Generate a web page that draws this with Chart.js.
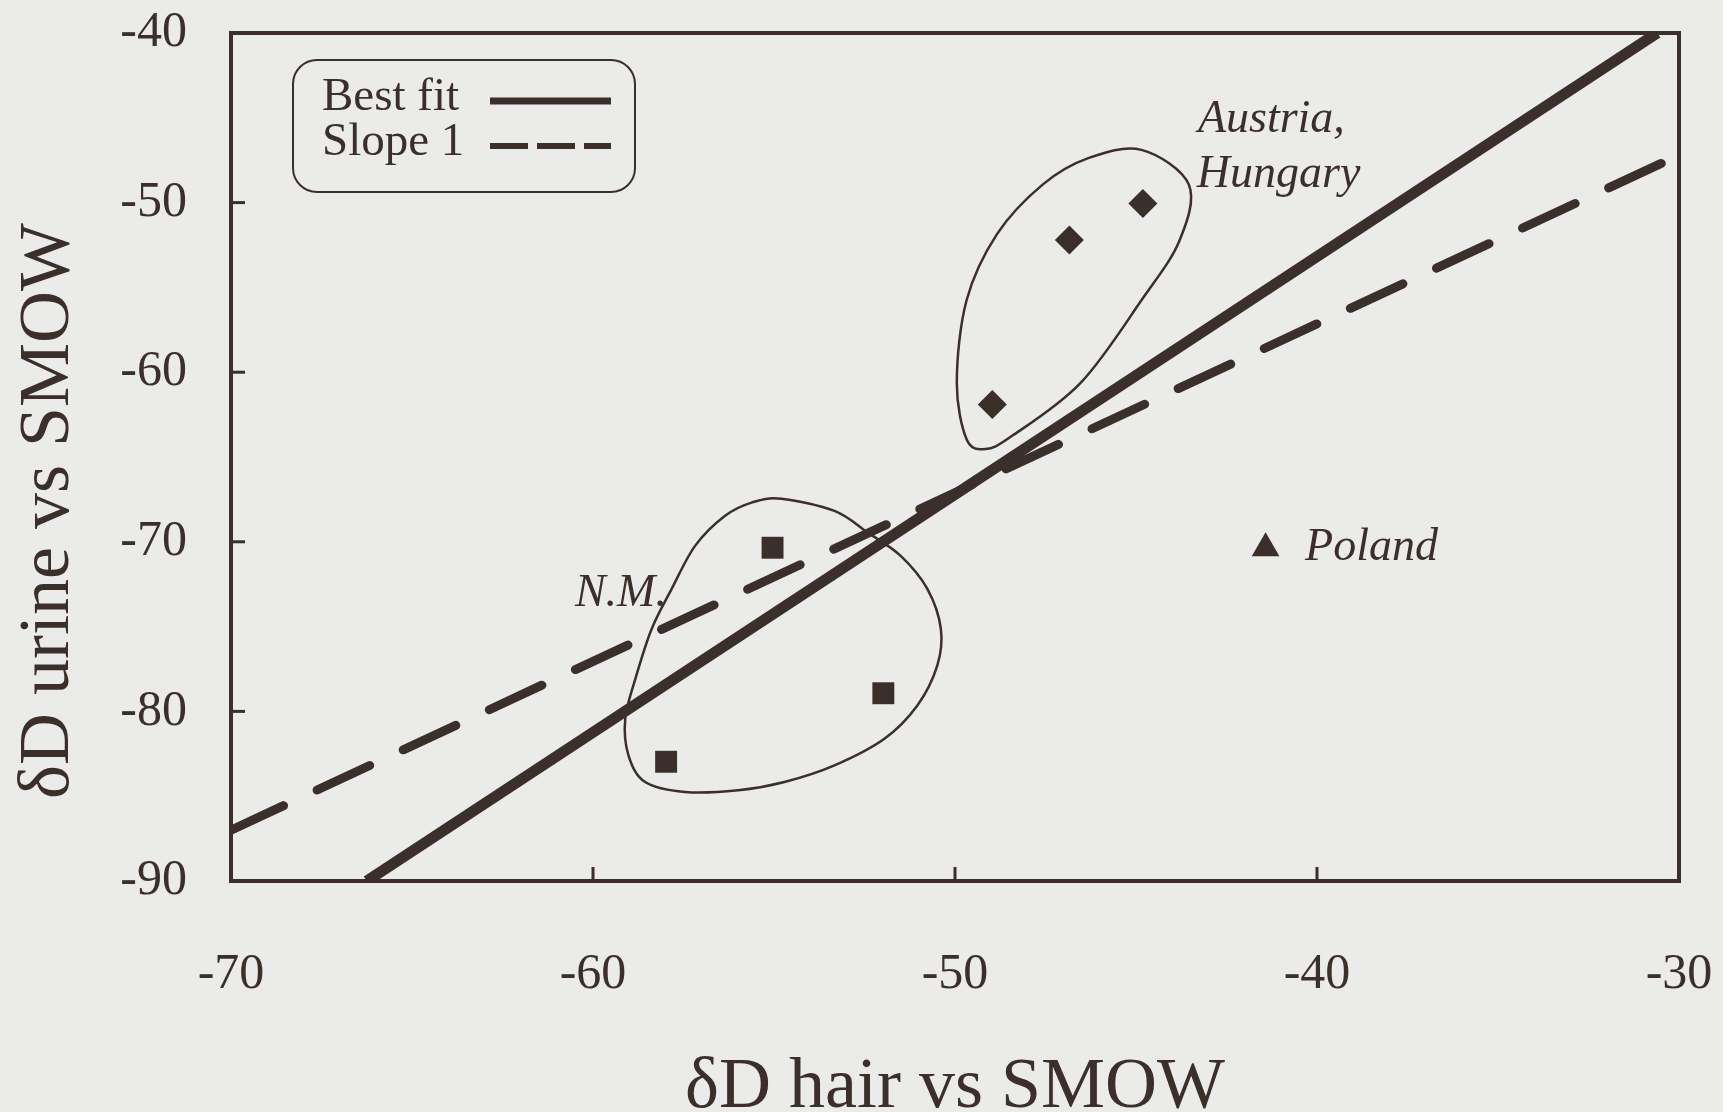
<!DOCTYPE html>
<html>
<head>
<meta charset="utf-8">
<script src="https://cdn.jsdelivr.net/npm/chart.js@4.4.0/dist/chart.umd.min.js"></script>
<style>
  html, body { margin: 0; padding: 0; background: #ebebea; }
  #wrap { width: 1723px; height: 1112px; }
</style>
</head>
<body>
<div id="wrap"><canvas id="isoChart" width="1723" height="1112"></canvas></div>
<script>
// Axis ticks
const xTicks = [-70, -60, -50, -40, -30];
const yTicks = [-90, -80, -70, -60, -50, -40];

// Sample groups: dD hair (x) vs dD urine (y)
const austriaHair = [-48.97, -46.84, -44.81];
const austriaUrine = [-61.9, -52.2, -50.05];
const nmHair = [-55.04, -51.98, -57.98];
const nmUrine = [-70.35, -78.93, -82.97];
const polandHair = [-41.42];
const polandUrine = [-70.38];

// Reference lines (end points)
const bestFitHair = [-66.25, -30.6];
const bestFitUrine = [-90, -40];
const slopeOneHair = [-70, -30];
const slopeOneUrine = [-87, -47.2];

// Hand drawn outlines around the groups
const austriaLoopHair = [-44.85, -43.54, -43.8, -44.85, -46.53, -48.42, -49.16, -49.68, -49.95, -49.68, -48.84, -47.58, -46.32];
const austriaLoopUrine = [-46.89, -48.94, -52.25, -55.76, -60.63, -63.75, -64.53, -63.95, -60.63, -55.76, -51.86, -48.94, -47.38];
const nmLoopHair = [-54.8, -53.33, -52.41, -51.5, -50.76, -50.39, -50.49, -51.04, -51.95, -53.33, -54.71, -55.99, -57.46, -58.56, -59.02, -59.11, -58.83, -58.38, -57.83, -57.18, -56.36, -55.62];
const nmLoopUrine = [-67.46, -68.18, -69.46, -70.83, -72.79, -75.14, -77.3, -79.65, -81.61, -83.18, -84.16, -84.65, -84.75, -84.16, -82.59, -80.44, -78.08, -75.14, -72.79, -70.24, -68.48, -67.69];

// Group labels, anchored at the left end of the text baseline
const noteText = ['Austria,', 'Hungary', 'N.M.', 'Poland'];
const noteHair = [-43.29, -43.32, -60.5, -40.33];
const noteUrine = [-45.85, -49.1, -73.8, -71.05];

const ink = '#3b2f2b';
const paper = '#ebebea';
const serif = "'Liberation Serif', 'DejaVu Serif', serif";

Chart.defaults.font.family = serif;
Chart.defaults.color = ink;

function pairs(xs, ys) {
    return xs.map((x, i) => ({ x: x, y: ys[i] }));
}

function toPx(chart, hx, uy) {
    return [chart.scales.x.getPixelForValue(hx), chart.scales.y.getPixelForValue(uy)];
}

// closed smooth curve through the outline points
function drawLoop(ctx, chart, xs, ys) {
    const pts = xs.map((v, i) => toPx(chart, v, ys[i]));
    const n = pts.length;
    ctx.beginPath();
    ctx.moveTo(pts[0][0], pts[0][1]);
    for (let i = 0; i < n; i++) {
        const p0 = pts[(i - 1 + n) % n], p1 = pts[i], p2 = pts[(i + 1) % n], p3 = pts[(i + 2) % n];
        ctx.bezierCurveTo(
            p1[0] + (p2[0] - p0[0]) / 6, p1[1] + (p2[1] - p0[1]) / 6,
            p2[0] - (p3[0] - p1[0]) / 6, p2[1] - (p3[1] - p1[1]) / 6,
            p2[0], p2[1]);
    }
    ctx.closePath();
    ctx.stroke();
}

const paperPlugin = {
    id: 'paper',
    beforeDraw(chart) {
        const ctx = chart.ctx;
        ctx.save();
        ctx.fillStyle = paper;
        ctx.fillRect(0, 0, chart.width, chart.height);
        ctx.restore();
    }
};

const loopsPlugin = {
    id: 'loops',
    beforeDatasetsDraw(chart) {
        const ctx = chart.ctx;
        ctx.save();
        ctx.strokeStyle = ink;
        ctx.lineWidth = 2.5;
        drawLoop(ctx, chart, austriaLoopHair, austriaLoopUrine);
        drawLoop(ctx, chart, nmLoopHair, nmLoopUrine);
        ctx.restore();
    }
};

// box frame with inward tick marks
const framePlugin = {
    id: 'frame',
    afterDatasetsDraw(chart) {
        const ctx = chart.ctx;
        const a = chart.chartArea;
        ctx.save();
        ctx.strokeStyle = ink;
        ctx.lineWidth = 3;
        xTicks.forEach(v => {
            const px = chart.scales.x.getPixelForValue(v);
            ctx.beginPath();
            ctx.moveTo(px, a.bottom);
            ctx.lineTo(px, a.bottom - 14);
            ctx.stroke();
        });
        yTicks.forEach(v => {
            const py = chart.scales.y.getPixelForValue(v);
            ctx.beginPath();
            ctx.moveTo(a.left, py);
            ctx.lineTo(a.left + 14, py);
            ctx.stroke();
        });
        ctx.lineWidth = 4;
        ctx.strokeRect(a.left, a.top, a.right - a.left, a.bottom - a.top);
        ctx.restore();
    }
};

const notesPlugin = {
    id: 'notes',
    afterDraw(chart) {
        const ctx = chart.ctx;
        const a = chart.chartArea;
        ctx.save();
        ctx.fillStyle = ink;

        // group labels
        ctx.font = 'italic 46px ' + serif;
        ctx.textAlign = 'left';
        ctx.textBaseline = 'alphabetic';
        noteText.forEach((t, i) => {
            const p = toPx(chart, noteHair[i], noteUrine[i]);
            ctx.fillText(t, p[0], p[1]);
        });

        // y axis title
        ctx.font = '72px ' + serif;
        ctx.textAlign = 'center';
        ctx.textBaseline = 'middle';
        ctx.translate(chart.scales.y.left + 49, (a.top + a.bottom) / 2 + 54);
        ctx.rotate(-Math.PI / 2);
        ctx.fillText('\u03b4D urine vs SMOW', 0, 0);
        ctx.restore();

        // legend in rounded box
        const lx = a.left + 62, ly = a.top + 27, lw = 342, lh = 132;
        const items = chart.data.datasets.slice(0, 2);
        ctx.save();
        ctx.strokeStyle = ink;
        ctx.lineWidth = 2;
        ctx.beginPath();
        ctx.roundRect(lx, ly, lw, lh, 24);
        ctx.stroke();
        ctx.fillStyle = ink;
        ctx.font = '47px ' + serif;
        ctx.textAlign = 'left';
        ctx.textBaseline = 'alphabetic';
        items.forEach((ds, i) => {
            const base = ly + 50 + i * 45;
            ctx.fillText(ds.label, lx + 29, base);
            ctx.beginPath();
            ctx.lineWidth = i === 0 ? 7 : 6;
            ctx.setLineDash(i === 0 ? [] : [38, 9]);
            ctx.moveTo(lx + 197, base - 9);
            ctx.lineTo(lx + 318, base - 9);
            ctx.stroke();
        });
        ctx.restore();
    }
};

const canvas = document.getElementById('isoChart');
new Chart(canvas.getContext('2d'), {
    type: 'scatter',
    data: {
        datasets: [
            {
                label: 'Best fit',
                data: pairs(bestFitHair, bestFitUrine),
                showLine: true,
                borderColor: ink,
                borderWidth: 11,
                pointRadius: 0
            },
            {
                label: 'Slope 1',
                data: pairs(slopeOneHair, slopeOneUrine),
                showLine: true,
                borderColor: ink,
                borderWidth: 9,
                borderDash: [58, 37],
                borderCapStyle: 'round',
                pointRadius: 0
            },
            {
                label: 'Austria, Hungary',
                data: pairs(austriaHair, austriaUrine),
                pointStyle: 'rectRot',
                pointRadius: 14.5,
                backgroundColor: ink,
                borderWidth: 0
            },
            {
                label: 'N.M.',
                data: pairs(nmHair, nmUrine),
                pointStyle: 'rect',
                pointRadius: 15.5,
                backgroundColor: ink,
                borderWidth: 0
            },
            {
                label: 'Poland',
                data: pairs(polandHair, polandUrine),
                pointStyle: 'triangle',
                pointRadius: 16,
                backgroundColor: ink,
                borderWidth: 0
            }
        ]
    },
    options: {
        responsive: false,
        animation: false,
        layout: { padding: { top: 33, right: 44, left: 0, bottom: 0 } },
        plugins: {
            legend: { display: false },
            tooltip: { enabled: false }
        },
        scales: {
            x: {
                type: 'linear',
                min: -70,
                max: -30,
                afterBuildTicks: s => { s.ticks = xTicks.map(v => ({ value: v })); },
                afterFit: s => {
                    s.height = 231;
                    s.paddingLeft = 0;
                    s.paddingRight = 0;
                },
                grid: { display: false, drawTicks: false },
                border: { display: false },
                ticks: { padding: 64, color: ink, font: { size: 50 } },
                title: {
                    display: true,
                    text: '\u03b4D hair vs SMOW',
                    color: ink,
                    font: { size: 72, lineHeight: 0.66 },
                    padding: 0
                }
            },
            y: {
                type: 'linear',
                min: -90,
                max: -40,
                afterBuildTicks: s => { s.ticks = yTicks.map(v => ({ value: v })); },
                afterFit: s => {
                    s.width = 231;
                    s.paddingTop = 0;
                    s.paddingBottom = 0;
                },
                grid: { display: false, drawTicks: false },
                border: { display: false },
                ticks: { padding: 44, color: ink, font: { size: 50 } },
                title: { display: false }
            }
        }
    },
    plugins: [paperPlugin, loopsPlugin, framePlugin, notesPlugin]
});
</script>
</body>
</html>
